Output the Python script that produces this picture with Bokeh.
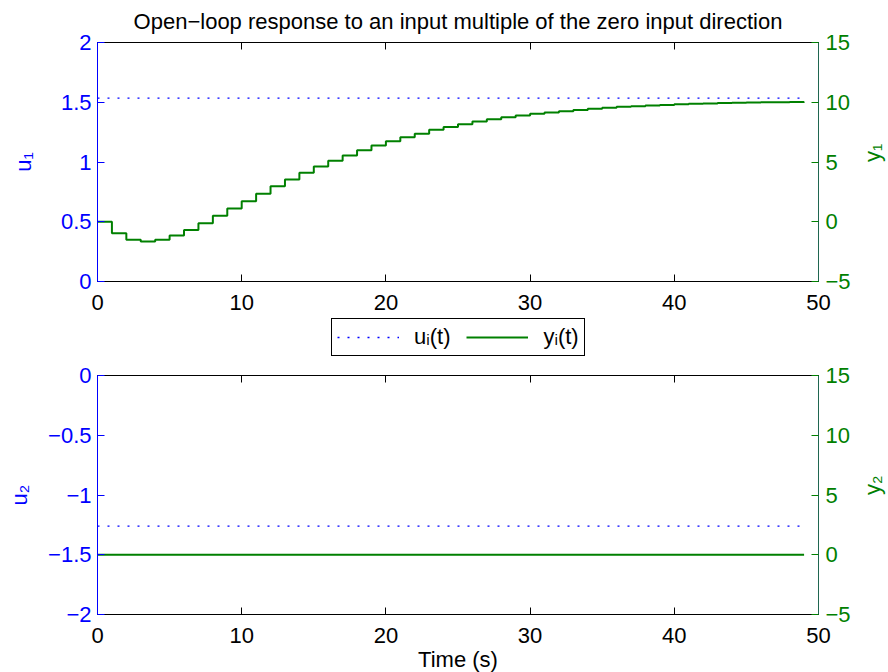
import math
from bokeh.plotting import figure
from bokeh.models import (Range1d, LinearAxis, FixedTicker, Legend, LegendItem,
                          CustomJSTickFormatter)
from bokeh.layouts import column
from bokeh.embed import file_html
from bokeh.resources import INLINE

# ---------------- data ----------------
t = list(range(50))
y1 = [0.0, -0.96, -1.51, -1.65, -1.51, -1.15, -0.68, -0.12, 0.50, 1.11,
      1.72, 2.34, 2.98, 3.54, 4.09, 4.62, 5.10, 5.54, 5.99, 6.38,
      6.74, 7.08, 7.36, 7.70, 7.92, 8.16, 8.38, 8.58, 8.75, 8.89,
      9.03, 9.14, 9.25, 9.36, 9.45, 9.53, 9.62, 9.67, 9.73, 9.78,
      9.84, 9.87, 9.90, 9.93, 9.96, 9.98, 10.00, 10.01, 10.03, 10.04]
y2 = [0.0] * 50
u1_level = 1.534
u2_level = -1.261

x_ticks = [0, 10, 20, 30, 40, 50]
u1_ticks = [0, 0.5, 1, 1.5, 2]
u2_ticks = [-2, -1.5, -1, -0.5, 0]
y_ticks = [-5, 0, 5, 10, 15]

title_text = "Open\u2212loop response to an input multiple of the zero input direction"
legend_labels = ["u\u1d62(t)", "y\u1d62(t)"]

FONT = "Liberation Sans"
FS = "22px"
BLUE = "#0000ff"
GREEN = "#008000"
RAXIS = "#1f6650"
U_STYLE = dict(line_color=BLUE, line_width=1.3, line_dash="2 8")
Y_STYLE = dict(line_color=GREEN, line_width=2)


def fmt():
    return CustomJSTickFormatter(
        code="return tick < 0 ? '\\u2212' + String(-tick) : String(tick);")


def style_axis(ax, color, ticks, standoff):
    ax.ticker = FixedTicker(ticks=ticks)
    ax.formatter = fmt()
    ax.axis_line_color = color
    ax.major_tick_line_color = color
    ax.major_tick_in = 7
    ax.major_tick_out = 0
    ax.minor_tick_line_color = None
    ax.major_label_text_color = color
    ax.major_label_text_font = FONT
    ax.major_label_text_font_size = FS
    ax.major_label_standoff = standoff
    ax.axis_label_text_font = FONT
    ax.axis_label_text_font_size = FS
    ax.axis_label_text_font_style = "normal"
    ax.axis_label_text_color = color


def make(u_range, u_ticks, u_label, y_label, u_level, y_vals,
         top, bottom, ulab_standoff, with_title=False, xlabel=None):
    p = figure(
        frame_width=721, frame_height=239,
        min_border_left=97, min_border_right=70,
        min_border_top=top, min_border_bottom=bottom,
        x_range=Range1d(0, 50), y_range=Range1d(*u_range),
        output_backend="svg", toolbar_location=None,
        background_fill_color="white", border_fill_color="white",
        outline_line_color="black", outline_line_width=1,
        title=title_text if with_title else None,
    )
    p.extra_y_ranges = {"yr": Range1d(-5, 15)}
    p.xgrid.visible = False
    p.ygrid.visible = False

    xa = p.xaxis[0]
    style_axis(xa, "black", x_ticks, 13)
    if xlabel:
        xa.axis_label = xlabel
        xa.axis_label_standoff = 1

    ya = p.yaxis[0]
    style_axis(ya, BLUE, u_ticks, 6)
    ya.axis_label = u_label
    ya.axis_label_standoff = ulab_standoff

    ra = LinearAxis(y_range_name="yr")
    style_axis(ra, GREEN, y_ticks, 7)
    ra.axis_line_color = RAXIS
    ra.axis_label = y_label
    ra.axis_label_standoff = 19
    if "axis_label_orientation" in LinearAxis.properties():
        ra.axis_label_orientation = math.pi / 2
    p.add_layout(ra, "right")

    ta = LinearAxis()
    style_axis(ta, "black", x_ticks, 0)
    ta.major_label_text_font_size = "0px"
    ta.major_label_text_color = None
    p.add_layout(ta, "above")

    if with_title:
        p.title.text_font = FONT
        p.title.text_font_size = FS
        p.title.text_font_style = "normal"
        p.title.align = "center"
        p.title.text_color = "black"
        p.title.vertical_align = "top"
        p.title.standoff = 14

    r_u = p.line([t[0], t[-1]], [u_level, u_level], **U_STYLE)
    r_y = p.step(t, y_vals, mode="after", y_range_name="yr", **Y_STYLE)
    return p, r_u, r_y


p1, ru1, ry1 = make((0, 2), u1_ticks, "u\u2081", "y\u2081", u1_level, y1,
                    42, 35, 22, with_title=True)
p2, ru2, ry2 = make((-2, 0), u2_ticks, "u\u2082", "y\u2082", u2_level, y2,
                    15, 58, 13, xlabel="Time (s)")

# strip between the two panels that carries the shared legend
pm = figure(width=888, height=44, min_border=0, x_range=Range1d(0, 50),
            y_range=Range1d(0, 2), x_axis_location=None, y_axis_location=None,
            output_backend="svg", toolbar_location=None,
            outline_line_color=None, background_fill_color="white",
            border_fill_color="white")
pm.xgrid.visible = False
pm.ygrid.visible = False
lu = pm.line([t[0], t[-1]], [u1_level, u1_level], visible=False, **U_STYLE)
ly = pm.step(t, y1, mode="after", visible=False, **Y_STYLE)

legend = Legend(
    items=[LegendItem(label=legend_labels[0], renderers=[lu]),
           LegendItem(label=legend_labels[1], renderers=[ly])],
    orientation="horizontal", location=(234, 4),
    glyph_width=62, glyph_height=20, label_standoff=15, spacing=16,
    padding=5, margin=0, click_policy="none",
    border_line_color="black", border_line_width=1, border_line_alpha=1.0,
    label_text_font=FONT, label_text_font_size=FS, label_text_color="black",
    background_fill_color="white", background_fill_alpha=1.0,
)
pm.add_layout(legend, "center")

layout = column(p1, pm, p2)
open("out.html", "w").write(file_html(layout, INLINE))
